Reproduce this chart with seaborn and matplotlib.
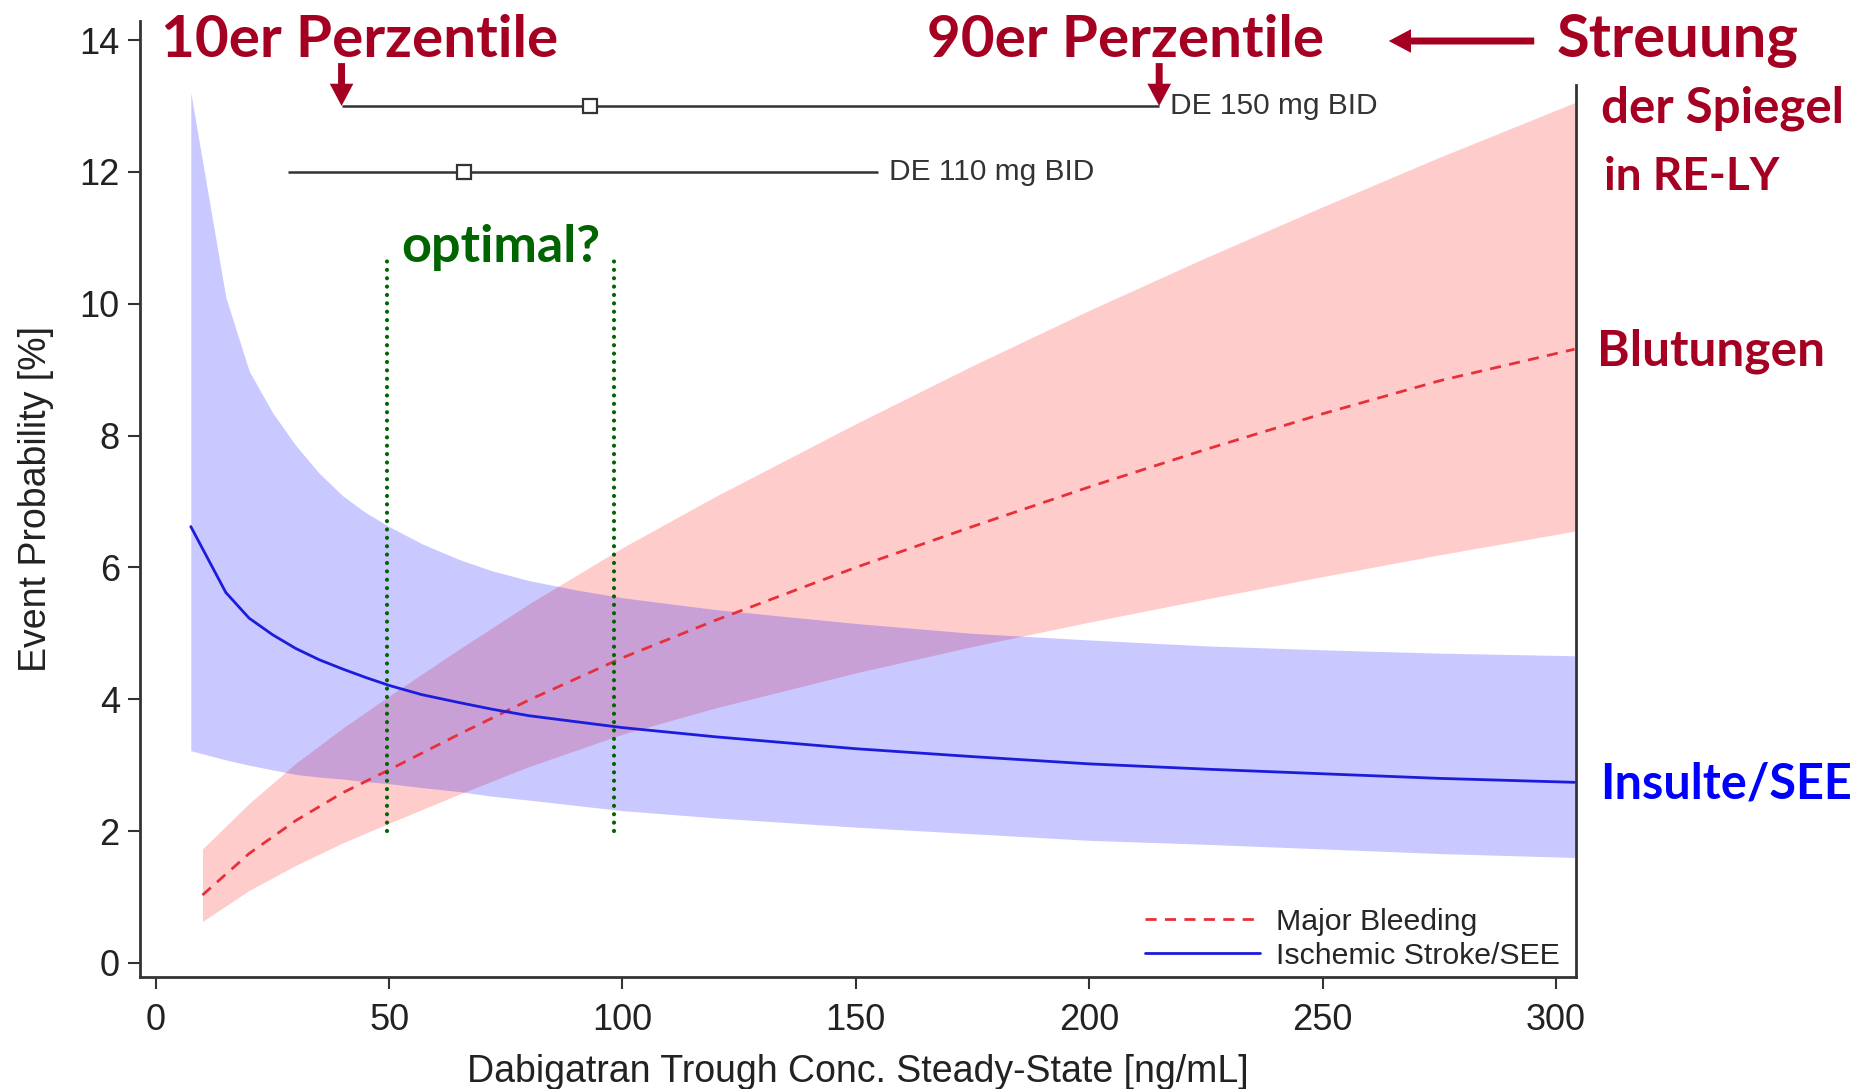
import matplotlib
matplotlib.use("Agg")
import matplotlib.pyplot as plt
import seaborn as sns
import pandas as pd

# Ischemic stroke / SEE: mean curve with confidence band
stroke_conc = [7.5, 15, 20, 25, 30, 35, 40, 45, 50, 57, 65, 72, 80, 90, 100, 120, 150, 175, 200, 225, 250, 275, 304]
stroke_prob = [6.62, 5.62, 5.23, 4.98, 4.77, 4.60, 4.46, 4.33, 4.21, 4.07, 3.95, 3.85, 3.75, 3.66, 3.57, 3.43, 3.25,
               3.13, 3.02, 2.94, 2.87, 2.80, 2.74]
stroke_upper = [13.2, 10.1, 8.98, 8.35, 7.85, 7.43, 7.09, 6.83, 6.62, 6.36, 6.12, 5.95, 5.80, 5.66, 5.54, 5.36, 5.15,
                5.00, 4.90, 4.81, 4.75, 4.70, 4.66]
stroke_lower = [3.22, 3.08, 3.00, 2.93, 2.86, 2.82, 2.79, 2.75, 2.72, 2.66, 2.60, 2.53, 2.47, 2.39, 2.31, 2.20, 2.06,
                1.96, 1.86, 1.80, 1.73, 1.66, 1.60]

# Major bleeding: mean curve with confidence band
bleed_conc = [10, 20, 30, 40, 50, 65, 80, 100, 120, 150, 175, 200, 225, 250, 275, 304]
bleed_prob = [1.03, 1.66, 2.16, 2.58, 2.93, 3.47, 3.99, 4.63, 5.20, 6.00, 6.62, 7.22, 7.79, 8.33, 8.83, 9.31]
bleed_upper = [1.73, 2.42, 3.03, 3.56, 4.05, 4.76, 5.45, 6.30, 7.08, 8.18, 9.06, 9.90, 10.70, 11.47, 12.22, 13.05]
bleed_lower = [0.63, 1.10, 1.48, 1.82, 2.12, 2.56, 2.98, 3.47, 3.87, 4.40, 4.80, 5.17, 5.52, 5.86, 6.19, 6.55]

# trough concentration spread per dose: 10th percentile, median, 90th percentile
dose_labels = ["DE 150 mg BID", "DE 110 mg BID"]
dose_p10 = [39.8, 28.3]
dose_median = [93.1, 66.0]
dose_p90 = [215.0, 154.8]
dose_row = [13.0, 12.0]

optimal_range = [49.6, 98.1]

stroke_df = pd.DataFrame({"conc": stroke_conc, "prob": stroke_prob})
bleed_df = pd.DataFrame({"conc": bleed_conc, "prob": bleed_prob})

sns.set_style("ticks")
plt.rcParams['font.family'] = ['Liberation Sans', 'DejaVu Sans']

dark_red = '#a50021'
green = '#006400'
axis_col = '#333333'

fig = plt.figure(figsize=(18.51, 10.89), dpi=100)
ax = fig.add_axes([0.0756, 0.1029, 0.7758, 0.8779])

# confidence bands (red first, blue on top)
ax.fill_between(bleed_conc, bleed_lower, bleed_upper, color='#ff0000', alpha=0.2, lw=0)
ax.fill_between(stroke_conc, stroke_lower, stroke_upper, color='#0000ff', alpha=0.21, lw=0)

sns.lineplot(data=bleed_df, x="conc", y="prob", ax=ax, color='#e8303a', lw=2.0,
             dashes=False, label="Major Bleeding")
ax.lines[-1].set_dashes((4, 3))
sns.lineplot(data=stroke_df, x="conc", y="prob", ax=ax, color='#1c1cdc', lw=2.0,
             label="Ischemic Stroke/SEE")

# dose percentile bars
for lab, lo, med, hi, row in zip(dose_labels, dose_p10, dose_median, dose_p90, dose_row):
    ax.plot([lo, hi], [row, row], color=axis_col, lw=1.8, solid_capstyle='butt')
    ax.plot([med], [row], marker='s', ms=10, mfc='white', mec=axis_col, mew=1.6)
    ax.text(hi + 2.3, row, lab, fontsize=21.5, color=axis_col, va='center', ha='left')

# red arrows marking the percentiles of the 150 mg dose
for xv in [dose_p10[0], dose_p90[0]]:
    ax.annotate('', xy=(xv, dose_row[0]), xytext=(xv, 13.65),
                arrowprops=dict(arrowstyle='simple,head_length=1.6,head_width=1.7,tail_width=0.5',
                                mutation_scale=10, color=dark_red, shrinkA=0, shrinkB=0, lw=0))

# "optimal?" window
for xv in optimal_range:
    ax.plot([xv, xv], [2.0, 10.7], color=green, lw=3.0, ls=(0, (0.01, 2.0)), dash_capstyle='round')
ax.text(sum(optimal_range) / 2, 10.64, 'optimal?', fontsize=37.5, fontweight='bold',
        color=green, ha='center', va='baseline', family=['Lato', 'DejaVu Sans'])

ax.set_xlim(-3.4, 304.3)
ax.set_ylim(-0.212, 14.29)
ax.set_xticks([0, 50, 100, 150, 200, 250, 300])
ax.set_yticks([0, 2, 4, 6, 8, 10, 12, 14])
ax.tick_params(direction='out', length=8.5, width=1.5, color=axis_col, labelsize=26,
               labelcolor='#222222')
ax.tick_params(axis='x', pad=10)
ax.tick_params(axis='y', pad=6)
for side in ['left', 'right', 'bottom']:
    ax.spines[side].set_color(axis_col)
    ax.spines[side].set_linewidth(2)
ax.spines['top'].set_visible(False)
ax.spines['right'].set_visible(True)
ax.spines['right'].set_bounds(-0.212, 13.32)

ax.set_xlabel('Dabigatran Trough Conc. Steady-State [ng/mL]', fontsize=27, labelpad=12, color='#222222')
ax.set_ylabel('Event Probability [%]', fontsize=27, labelpad=18, color='#222222')

ax.legend(loc='lower left', bbox_to_anchor=(211.9, -0.1), bbox_transform=ax.transData,
          frameon=False, fontsize=21.8, handlelength=3.8, handletextpad=0.55,
          labelspacing=0.2, borderpad=0, borderaxespad=0)

# annotations around the plot
lato = ['Lato', 'DejaVu Sans']
fig.text(0.087, 0.9477, '10er Perzentile', fontsize=42, fontweight='bold', color=dark_red,
         va='baseline', family=lato)
fig.text(0.5008, 0.9477, '90er Perzentile', fontsize=42, fontweight='bold', color=dark_red,
         va='baseline', family=lato)
fig.text(0.8412, 0.9477, 'Streuung', fontsize=43, fontweight='bold', color=dark_red,
         va='baseline', family=lato)
fig.text(0.8649, 0.8871, 'der Spiegel', fontsize=35.5, fontweight='bold', color=dark_red,
         va='baseline', family=lato)
fig.text(0.8666, 0.8255, 'in RE-LY', fontsize=33, fontweight='bold', color=dark_red,
         va='baseline', family=lato)
fig.text(0.8628, 0.6648, 'Blutungen', fontsize=35.7, fontweight='bold', color=dark_red,
         va='baseline', family=lato)
fig.text(0.8644, 0.2672, 'Insulte/SEE', fontsize=35, fontweight='bold', color='#0000ff',
         va='baseline', family=lato)
fig.add_artist(matplotlib.patches.FancyArrowPatch(
    (1537 / 1851, 1 - 41 / 1089), (1386 / 1851, 1 - 41 / 1089), transform=fig.transFigure,
    arrowstyle='simple,head_length=1.6,head_width=1.7,tail_width=0.5', mutation_scale=10,
    color=dark_red, lw=0))

fig.savefig('out.png', dpi=100)
